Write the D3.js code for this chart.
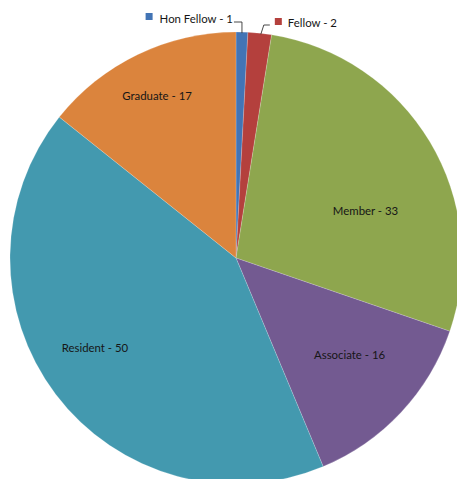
<!DOCTYPE html>
<html>
<head>
<meta charset="utf-8">
<script src="https://cdn.jsdelivr.net/npm/d3@7"></script>
<style>
  html, body { margin: 0; padding: 0; background: #fff; overflow: hidden; }
  svg { display: block; }
</style>
</head>
<body>
<svg id="chart" width="457" height="479"></svg>
<script>
const categories = ["Hon Fellow", "Fellow", "Member", "Associate", "Resident", "Graduate"];
const values = [1, 2, 33, 16, 50, 17];
const colors = ["#4274B5", "#B4403D", "#8EA64E", "#735A91", "#4399AF", "#DB843D"];

// layout
const W = 457, H = 479;
const cx = 236, cy = 258, R = 226;
// inside label placement: [angle deg clockwise from top, radius fraction]; null => outside with leader
const labelPolar = [null, null, [70, 0.61], [130.4, 0.66], [237.5, 0.74], [334.1, 0.80]];

const svg = d3.select("#chart");
const g = svg.append("g").attr("transform", `translate(${cx},${cy})`);

const data = categories.map((c, i) => ({ name: c, value: values[i], color: colors[i] }));
const pie = d3.pie().value(d => d.value).sort(null);
const arcs = pie(data);
const arc = d3.arc().innerRadius(0).outerRadius(R);

g.selectAll("path.slice")
  .data(arcs)
  .enter().append("path")
  .attr("class", "slice")
  .attr("d", arc)
  .attr("fill", d => d.data.color)
  .attr("stroke", "#ffffff")
  .attr("stroke-opacity", 0.3)
  .attr("stroke-width", 0.6);

const font = "Lato, 'Open Sans', sans-serif";
const fontSize = 11.4;
const textColor = "#161616";

// inside labels
arcs.forEach((a, i) => {
  const lp = labelPolar[i];
  if (!lp) return;
  const ang = lp[0] * Math.PI / 180;
  const r = lp[1] * R;
  g.append("text")
    .attr("x", r * Math.sin(ang))
    .attr("y", -r * Math.cos(ang))
    .attr("text-anchor", "middle")
    .attr("dominant-baseline", "central")
    .attr("font-family", font)
    .attr("font-size", fontSize)
    .attr("fill", textColor)
    .text(`${a.data.name} - ${a.data.value}`);
});

// outside labels with leader lines (small slices at top)
function edgePoint(a) {
  const m = (a.startAngle + a.endAngle) / 2;
  return [R * Math.sin(m), -R * Math.cos(m)];
}

// Hon Fellow: label to the left
{
  const a = arcs[0];
  const [ex, ey] = edgePoint(a);
  const ly = 22 - cy;
  const lx = ex - 8;
  g.append("path")
    .attr("d", `M${ex},${ey + 1} L${ex},${ly} L${lx},${ly}`)
    .attr("fill", "none").attr("stroke", "#333").attr("stroke-width", 0.9);
  const t = g.append("text")
    .attr("x", lx - 1)
    .attr("y", ly - 4)
    .attr("text-anchor", "end")
    .attr("dominant-baseline", "central")
    .attr("font-family", font)
    .attr("font-size", fontSize)
    .attr("fill", textColor)
    .text(`${a.data.name} - ${a.data.value}`);
  const bb = t.node().getBBox();
  g.append("rect")
    .attr("x", bb.x - 14).attr("y", ly - 9)
    .attr("width", 7).attr("height", 7)
    .attr("fill", a.data.color);
}

// Fellow: label to the right
{
  const a = arcs[1];
  const [ex, ey] = edgePoint(a);
  const ly = 25 - cy;
  const bx = ex + 4;
  const lx = bx + 6;
  g.append("path")
    .attr("d", `M${ex + 1},${ey + 1} L${bx},${ly} L${lx},${ly}`)
    .attr("fill", "none").attr("stroke", "#333").attr("stroke-width", 0.9);
  g.append("rect")
    .attr("x", lx + 5).attr("y", ly - 7)
    .attr("width", 7).attr("height", 7)
    .attr("fill", a.data.color);
  g.append("text")
    .attr("x", lx + 18)
    .attr("y", ly - 3)
    .attr("text-anchor", "start")
    .attr("dominant-baseline", "central")
    .attr("font-family", font)
    .attr("font-size", fontSize)
    .attr("fill", textColor)
    .text(`${a.data.name} - ${a.data.value}`);
}
</script>
</body>
</html>
